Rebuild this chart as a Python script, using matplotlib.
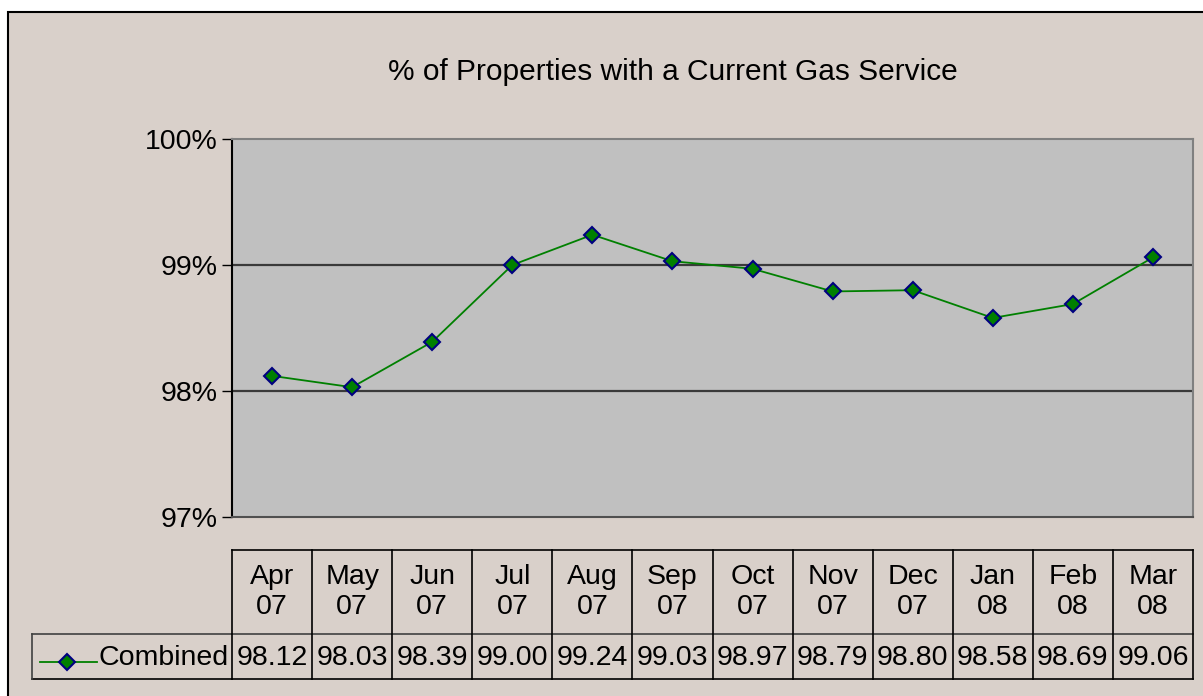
import matplotlib.pyplot as plt
import matplotlib.transforms as mtransforms
from matplotlib.patches import Rectangle

plt.rcParams['font.family'] = ['Liberation Sans', 'DejaVu Sans']

# data
months = ['Apr', 'May', 'Jun', 'Jul', 'Aug', 'Sep', 'Oct', 'Nov', 'Dec', 'Jan', 'Feb', 'Mar']
years = ['07', '07', '07', '07', '07', '07', '07', '07', '07', '08', '08', '08']
combined = [98.12, 98.03, 98.39, 99.00, 99.24, 99.03, 98.97, 98.79, 98.80, 98.58, 98.69, 99.06]
series_name = 'Combined'
title = '% of Properties with a Current Gas Service'
yticks = [97, 98, 99, 100]

W, H = 1203, 696
fig = plt.figure(figsize=(W / 100, H / 100), dpi=100)
fig.patch.set_facecolor('white')

# overlay in pixel coords for background + table
ov = fig.add_axes([0, 0, 1, 1], zorder=0)
ov.set_xlim(0, W)
ov.set_ylim(H, 0)
ov.axis('off')
ov.add_patch(Rectangle((8, 12), W + 20, H + 20, facecolor='#d9d0ca', edgecolor='black', lw=1.5))

# main plot area
L, R, T, B = 232, 1193, 139, 517
ax = fig.add_axes([L / W, 1 - B / H, (R - L) / W, (B - T) / H], zorder=2)
ax.set_facecolor('#c0c0c0')
x = list(range(len(combined)))
ax.plot(x, combined, color='#008000', lw=1.3, marker='D', markersize=8,
        markerfacecolor='#008000', markeredgecolor='#000080', markeredgewidth=1.5, zorder=3)
ax.set_xlim(-0.5, len(combined) - 0.5)
ax.set_ylim(97, 100)
ax.set_yticks(yticks)
ax.set_yticklabels([f'{v}%' for v in yticks], fontsize=20.5)
ax.set_xticks([])
ax.tick_params(axis='y', length=7, width=1, pad=3, color='black')
for v in yticks[1:-1]:
    ax.axhline(v, color='#3a3a3a', lw=1.6, zorder=1)
ax.spines['left'].set_color('black')
ax.spines['bottom'].set_color('#505050')
ax.spines['top'].set_color('#808080')
ax.spines['right'].set_color('#808080')
for s in ax.spines.values():
    s.set_linewidth(1.5)

ov.text(673, 72, title, fontsize=21.5, ha='center', va='center')

# data table below the chart
tr = mtransforms.blended_transform_factory(ax.transData, ov.transData)
top, mid, bot = 550, 634, 679
n = len(combined)
ov.plot([-0.5, n - 0.5], [top, top], color='black', lw=1.2, transform=tr)
ov.plot([-0.5, n - 0.5], [mid, mid], color='#404040', lw=1.2, transform=tr)
ov.plot([-0.5, n - 0.5], [bot, bot], color='black', lw=1.2, transform=tr)
ov.plot([32, L], [mid, mid], color='#404040', lw=1.2)
ov.plot([32, L], [bot, bot], color='black', lw=1.2)
ov.plot([32, 32], [mid, bot], color='#404040', lw=1.2)
for i in range(n + 1):
    ov.plot([i - 0.5, i - 0.5], [top, bot], color='black', lw=1.2, transform=tr)
for i, (m, yy, v) in enumerate(zip(months, years, combined)):
    ov.text(i, 577, m, fontsize=20.5, ha='center', va='center', transform=tr)
    ov.text(i, 607, yy, fontsize=20.5, ha='center', va='center', transform=tr)
    ov.text(i, 658, f'{v:.2f}', fontsize=20.5, ha='center', va='center', transform=tr)

# legend key
ov.plot([40, 97], [662, 662], color='#008000', lw=1.3)
ov.plot([67], [662], marker='D', markersize=8, color='#008000',
        markeredgecolor='#000080', markeredgewidth=1.5)
ov.text(229, 658, series_name, fontsize=20.5, ha='right', va='center')

fig.savefig('out.png', dpi=100)
